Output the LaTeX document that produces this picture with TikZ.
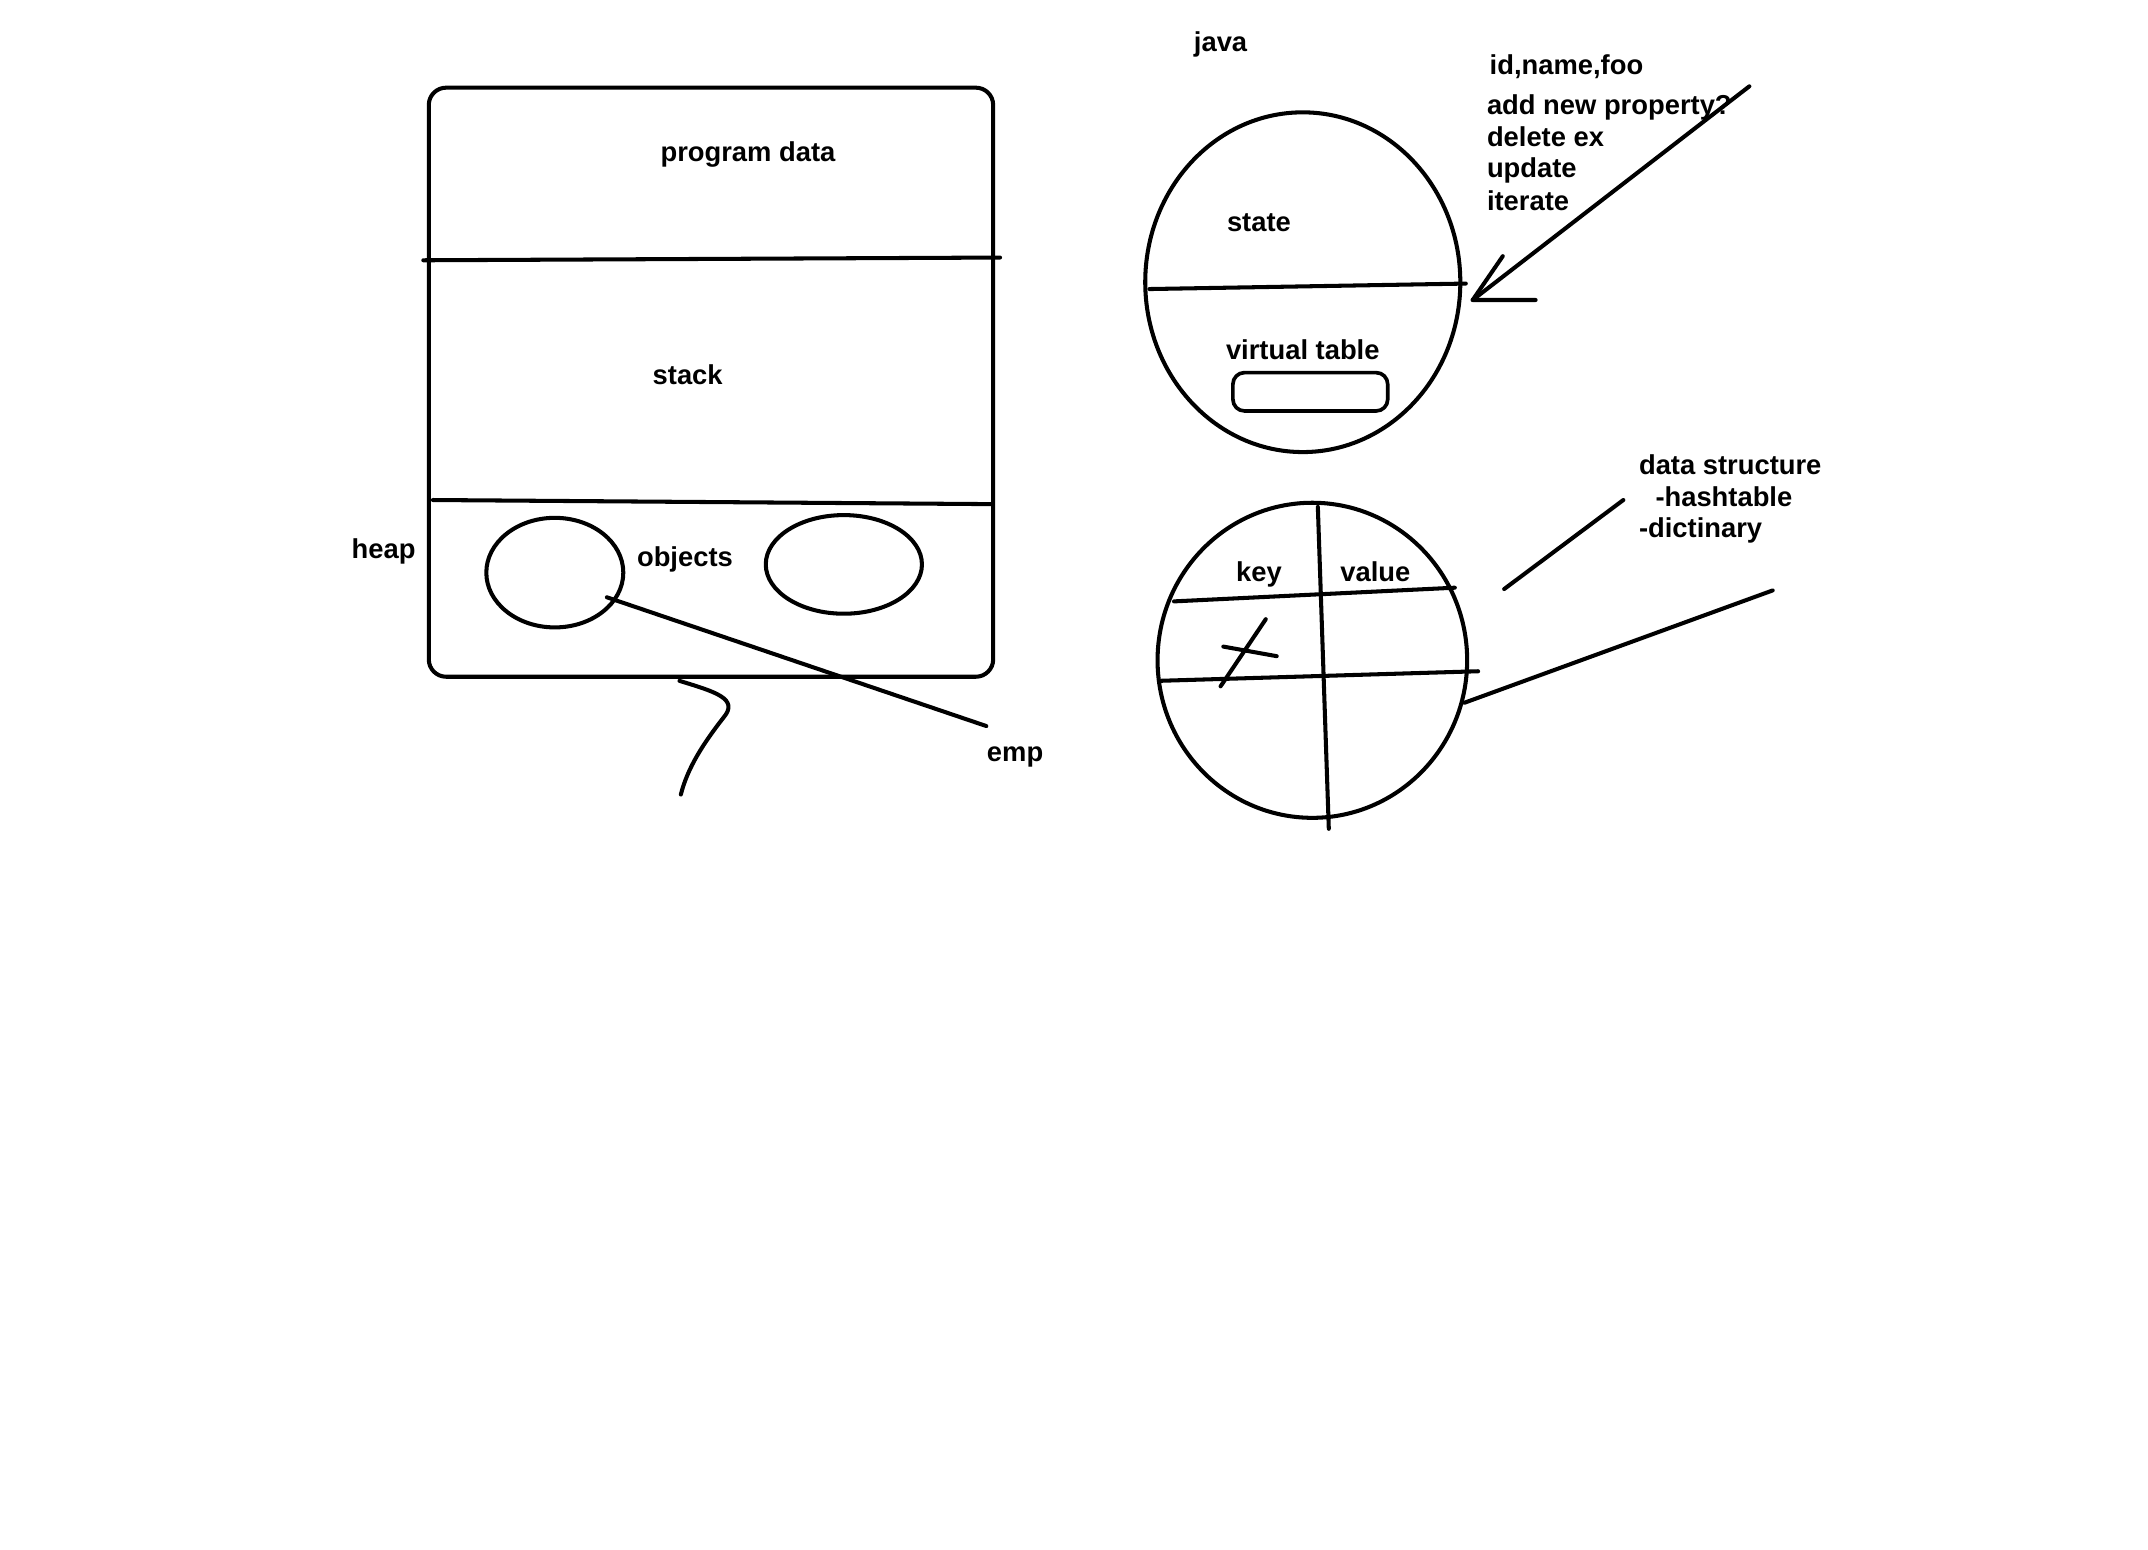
\documentclass[tikz,border=0pt]{standalone}
\usepackage{fontspec}
\setmainfont{Liberation Sans}
\begin{document}
\begin{tikzpicture}[x=0.025cm, y=-0.025cm, line width=2.1pt, line cap=round, line join=round,
        every node/.style={font=\fontsize{14.2}{17}\selectfont\bfseries, inner sep=0pt,
            text height=0.72em, text depth=0.2em},
        lbl/.style={anchor=west}]
                \useasboundingbox (0,0) rectangle (1568,1131);
                % memory layout
                \draw[rounded corners=9] (313,64) rectangle (725,494);
                \draw (309,190) -- (730,188);
                \draw (316,365) -- (724,368);
                \node (progdata) at (546,114) {program data};
                \node (stack) at (502,277) {stack};
                \node (heap) at (280,404) {heap};
                \node (objects) at (500,410) {objects};
                \draw (405,418) ellipse (50 and 40);
                \draw (616,412) ellipse (57 and 36);
                \coordinate (empfrom) at (443,436);
                \node (emp) at (741,552) {emp};
                \draw (empfrom) -- (720,530);
                \draw (496,497) .. controls (522,505) and (540,510) .. (528,524)
                    .. controls (514,542) and (502,560) .. (497,580);
                % java object
                \node (java) at (891,34) {java};
                \draw (951,206) ellipse (115 and 124);
                \draw (839,211) -- (1070,207);
                \node (state) at (919,165) {state};
                \node (vtable) at (951,259) {virtual table};
                \draw[rounded corners=6, line width=1.9pt] (900,272) rectangle (1013,300);
                \node[lbl] (props) at (1086,51) {id,name,foo};
                \node[lbl] (addprop) at (1084,80) {add new property?};
                \node[lbl] (delete) at (1084,103) {delete ex};
                \node[lbl] (update) at (1084,126) {update};
                \node[lbl] (iterate) at (1084,150) {iterate};
                \coordinate (tip) at (1075,219);
                \draw (1277,63) -- (tip);
                \draw (1097,187) -- (tip) -- (1121,219);
                % hashtable
                \draw (958,482) ellipse (113 and 115);
                \draw (962,370) -- (970,605);
                \draw (857,439) -- (1062,429);
                \draw (846,497) -- (1079,490);
                \node (key) at (919,421) {key};
                \node (value) at (1004,421) {value};
                \draw (891,501) -- (924,452);
                \draw (893,472) -- (932,479);
                \draw (1069,513) -- (1294,431);
                \draw (1098,430) -- (1185,365);
                \node[lbl] (datastruct) at (1195,343) {data structure};
                \node[lbl] (hashtable) at (1207,366) {-hashtable};
                \node[lbl] (dictinary) at (1195,389) {-dictinary};
\end{tikzpicture}
\end{document}
